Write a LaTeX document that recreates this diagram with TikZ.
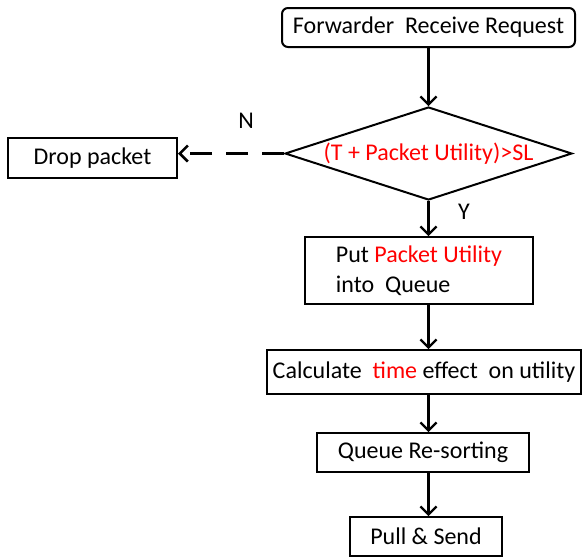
\documentclass[tikz,border=0pt]{standalone}
\usepackage{fontspec}
\setmainfont{Carlito}
\usetikzlibrary{shapes.geometric, arrows.meta}

\begin{document}
\begin{tikzpicture}[x=1pt, y=-1pt,
    every node/.style={font=\fontsize{24}{30}\selectfont},
    flowbox/.style={draw, line width=2pt, inner sep=0pt},
    flowarrow/.style={line width=2.2pt, -{Straight Barb[length=8pt, width=16pt]}}]
    \useasboundingbox (0,0) rectangle (584,558);

    % Main flow, top to bottom
    \node[flowbox, rounded corners=6pt, minimum width=293, minimum height=39] (recv) at (428.5,27.5) {Forwarder\ \ Receive Request};
    \node[flowbox, diamond, aspect=3.09, minimum width=287, minimum height=93] (check) at (428.5,153.5) {\textcolor{red}{(T + Packet Utility)>SL}};
    \node[flowbox, minimum width=228, minimum height=67, align=left] (enqueue) at (419,270.5) {Put \textcolor{red}{Packet Utility}\\into\ \ Queue};
    \node[flowbox, minimum width=314, minimum height=44] (calc) at (424,372) {Calculate\ \ \textcolor{red}{time} effect\ \ on utility};
    \node[flowbox, minimum width=212, minimum height=39] (resort) at (423,452.5) {Queue Re-sorting};
    \node[flowbox, minimum width=152, minimum height=39] (send) at (426,536.5) {Pull \& Send};

    % Rejected branch
    \node[flowbox, minimum width=169, minimum height=40] (drop) at (92.5,158) {Drop packet};

    % Connectors
    \draw[flowarrow] (recv.south -| check.north) -- (check.north);
    \draw[flowarrow] (check.south) -- (check.south |- enqueue.north);
    \draw[flowarrow] (check.south |- enqueue.south) -- (check.south |- calc.north);
    \draw[flowarrow] (check.south |- calc.south) -- (check.south |- resort.north);
    \draw[flowarrow] (check.south |- resort.south) -- (check.south |- send.north);
    \draw[flowarrow, line width=2.6pt, dash pattern=on 22pt off 14pt] (check.west) -- (drop.east |- check.west);

    % Branch labels
    \node (no) at (246,121) {N};
    \node (yes) at (464,212) {Y};
\end{tikzpicture}
\end{document}
